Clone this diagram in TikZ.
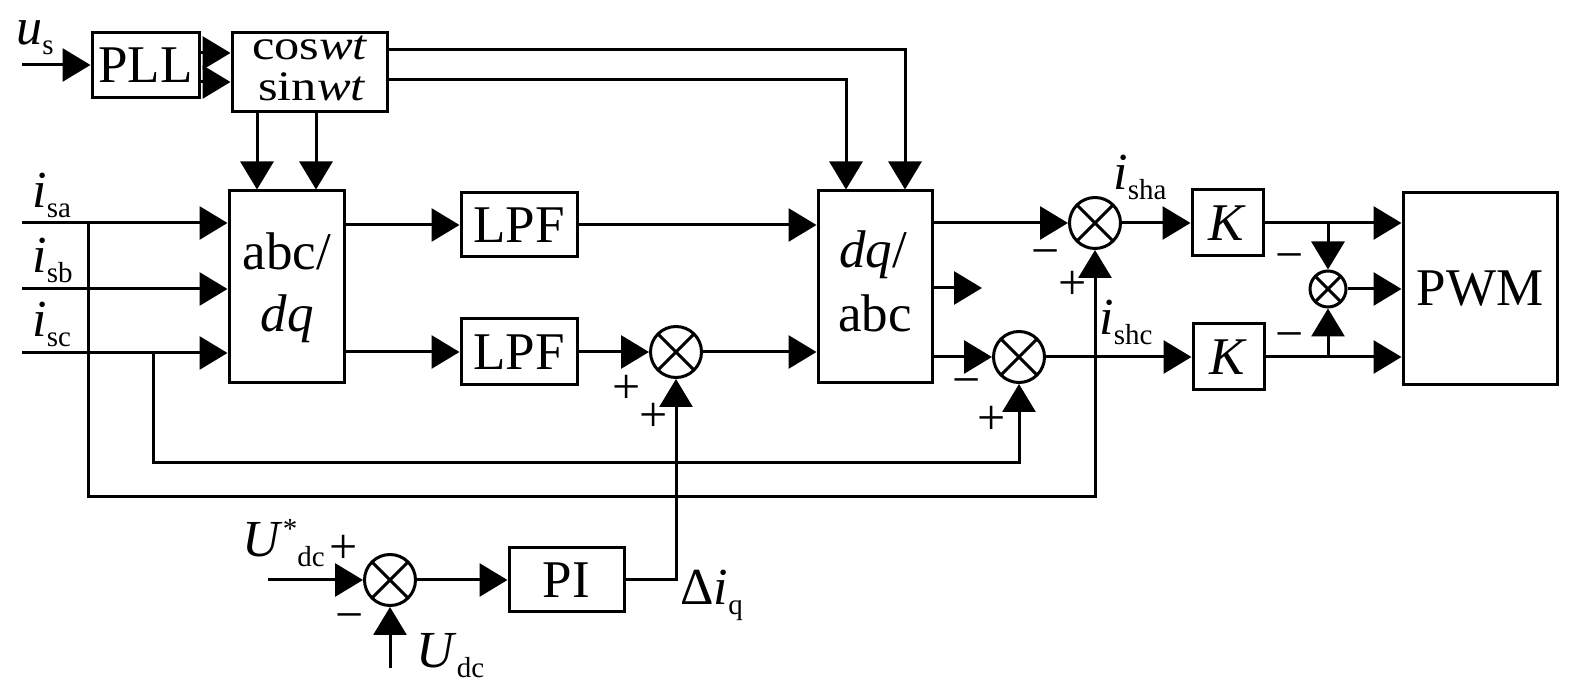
\documentclass[tikz,border=0pt]{standalone}
\usepackage{graphicx}
\usepackage{fontspec}
\setmainfont{Liberation Serif}
\usetikzlibrary{arrows.meta,calc}
\newcommand{\lsub}[1]{\raisebox{-5pt}{\fontsize{14.5}{15}\selectfont #1}}
\newcommand{\lsup}[1]{\raisebox{9pt}{\fontsize{14.5}{15}\selectfont #1}}
\begin{document}
\begin{tikzpicture}[x=0.5pt,y=-0.5pt, line width=1.5pt,
  >={Triangle[length=14pt,width=16.5pt]},
  every node/.style={font=\fontsize{26.5}{30}\selectfont},
  blk/.style={draw, inner sep=0pt},
  sumc/.style={circle, draw, inner sep=0pt, minimum size=25.5pt,
    path picture={\draw[line width=1.5pt]
      (path picture bounding box.north west) -- (path picture bounding box.south east)
      (path picture bounding box.north east) -- (path picture bounding box.south west);}},
  sums/.style={sumc, minimum size=18pt},
  sgn/.style={inner sep=0pt, font=\fontsize{25}{30}\selectfont},
  lbl/.style={inner sep=0pt, anchor=base west, font=\fontsize{26}{30}\selectfont},
  txt/.style={inner sep=0pt, anchor=base},
  cstxt/.style={inner sep=0pt, anchor=base, font=\fontsize{21}{24}\selectfont}]
\useasboundingbox (0,0) rectangle (1575,699);

% blocks
\node[blk, minimum width=53.5pt, minimum height=32.5pt] (PLL) at (145.5,65) {PLL};
\node[blk, minimum width=77.5pt, minimum height=39.5pt] (CS) at (309.5,72.5) {};
\node[cstxt] (cst) at (310,60) {\scalebox{1.2}[1]{cos\textit{wt}}};
\node[cstxt] (snt) at (312,101) {\scalebox{1.2}[1]{sin\textit{wt}}};
\node[blk, minimum width=57.5pt, minimum height=96pt] (ABC) at (286.5,287) {};
\node[txt] (abct) at (287,270) {abc/};
\node[txt] (dqt) at (287,332) {\textit{dq}};
\node[blk, minimum width=58pt, minimum height=32pt] (LPF1) at (519,225) {LPF};
\node[blk, minimum width=58pt, minimum height=33pt] (LPF2) at (519,352) {LPF};
\node[blk, minimum width=57pt, minimum height=96pt] (DQ) at (875,287) {};
\node[txt] (dqt2) at (873,268) {\textit{dq}/};
\node[txt] (abct2) at (875,332) {abc};
\node[blk, minimum width=35.5pt, minimum height=33pt] (K1) at (1227.5,223) {\textit{K}};
\node[blk, minimum width=35.5pt, minimum height=33pt] (K2) at (1228.5,357) {\textit{K}};
\node[blk, minimum width=77pt, minimum height=96pt] (PWM) at (1480,289) {PWM};
\node[blk, minimum width=57.5pt, minimum height=32pt] (PI) at (566.5,580) {PI};

% summing junctions
\node[sumc] (S1) at (676,352) {};
\node[sumc] (S2) at (1095,223) {};
\node[sumc] (S3) at (1019,357) {};
\node[sums] (S4) at (1328,289) {};
\node[sumc] (S5) at (390,580) {};

% coordinates
\coordinate (us) at (22,65);
\coordinate (ia) at (22,223);
\coordinate (ib) at (22,289);
\coordinate (ic) at (22,353);
\coordinate (b1) at (88,223);
\coordinate (b1e) at (88,497);
\coordinate (b2) at (153,353);
\coordinate (b2e) at (153,463);
\coordinate (ud) at (268,580);
\coordinate (ud2) at (390,668);
\coordinate (dqm) at (982,288);

% connectors top
\draw[->] (us) -- (PLL.west);
\draw[->] ($(PLL.east)+(0,-12)$) -- ($(CS.west)+(0,-19.5)$);
\draw[->] ($(PLL.east)+(0,17)$) -- ($(CS.west)+(0,9.5)$);
\draw[->] ($(CS.east)+(0,-22.5)$) -| ($(DQ.north)+(30,0)$);
\draw[->] ($(CS.east)+(0,7.5)$) -| ($(DQ.north)+(-29,0)$);
\draw[->] ($(CS.south)+(-52.5,0)$) -- ($(ABC.north)+(-29.5,0)$);
\draw[->] ($(CS.south)+(6.5,0)$) -- ($(ABC.north)+(29.5,0)$);

% inputs
\draw[->] (ia) -- (ia -| ABC.west);
\draw[->] (ib) -- (ib -| ABC.west);
\draw[->] (ic) -- (ic -| ABC.west);
\draw[->] (b1) -- (b1e) -| (S2.south);
\draw[->] (b2) -- (b2e) -| (S3.south);

% middle
\draw[->] ($(ABC.east)+(0,-62)$) -- (LPF1.west);
\draw[->] ($(ABC.east)+(0,65)$) -- (LPF2.west);
\draw[->] (LPF1.east) -- (LPF1.east -| DQ.west);
\draw[->] (LPF2.east) -- (S1.west);
\draw[->] (S1.east) -- (S1.east -| DQ.west);
\draw[->] (PI.east) -| (S1.south);
\draw[->] ($(DQ.east)+(0,-64)$) -- (S2.west);
\draw[->] ($(DQ.east)+(0,1)$) -- (dqm);
\draw[->] ($(DQ.east)+(0,70)$) -- (S3.west);
\draw[->] (S2.east) -- (K1.west);
\draw[->] (S3.east) -- (K2.west);

% right
\draw[->] (K1.east) -- (K1.east -| PWM.west);
\draw[->] (K2.east) -- (K2.east -| PWM.west);
\draw[->] (S4.north |- K1.east) -- (S4.north);
\draw[->] (S4.south |- K2.east) -- (S4.south);
\draw[->] (S4.east) -- (S4.east -| PWM.west);

% bottom
\draw[->] (ud) -- (S5.west);
\draw[->] (ud2) -- (S5.south);
\draw[->] (S5.east) -- (PI.west);

% signs
\node[sgn] (s1a) at (627,389) {+};
\node[sgn] (s1b) at (654,417) {+};
\node[sgn] (s2a) at (1046,259) {−};
\node[sgn] (s2b) at (1073,285) {+};
\node[sgn] (s3a) at (967,388) {−};
\node[sgn] (s3b) at (992,420) {+};
\node[sgn] (s4a) at (1290,263) {−};
\node[sgn] (s4b) at (1290,342) {−};
\node[sgn] (s5a) at (344,549) {+};
\node[sgn] (s5b) at (350,623) {−};

% labels
\node[lbl] (lus) at (15,45) {\textit{u}\lsub{s}};
\node[lbl] (lia) at (31,208) {\textit{i}\lsub{sa}};
\node[lbl] (lib) at (31,273) {\textit{i}\lsub{sb}};
\node[lbl] (lic) at (31,337) {\textit{i}\lsub{sc}};
\node[lbl] (lsha) at (1112,190) {\textit{i}\lsub{sha}};
\node[lbl] (lshc) at (1098,335) {\textit{i}\lsub{shc}};
\node[lbl] (lud) at (241,557) {\textit{U}\lsup{*}\lsub{dc}};
\node[lbl] (lud2) at (415,668) {\textit{U}\lsub{dc}};
\node[lbl] (liq) at (679,605) {Δ\textit{i}\lsub{q}};
\end{tikzpicture}
\end{document}
